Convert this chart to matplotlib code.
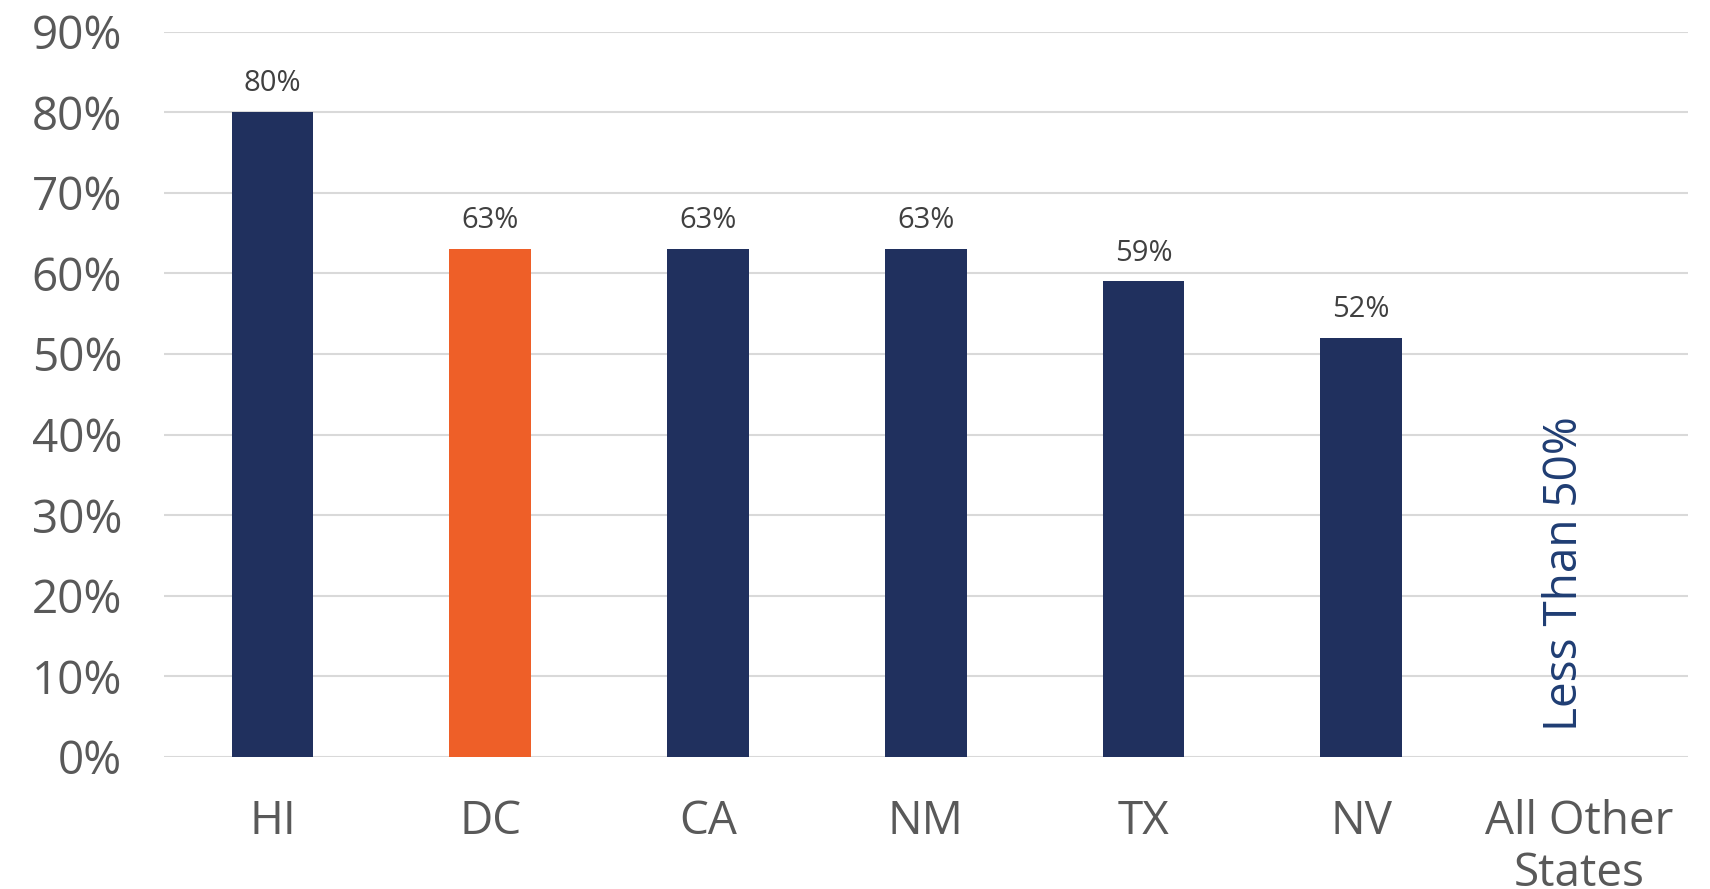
import matplotlib.pyplot as plt
from matplotlib.ticker import PercentFormatter

states = ['HI', 'DC', 'CA', 'NM', 'TX', 'NV', 'All Other\nStates']
share = [80, 63, 63, 63, 59, 52]
colors = ['#20305e', '#ee5f28', '#20305e', '#20305e', '#20305e', '#20305e']
other_note = 'Less Than 50%'

plt.rcParams['font.family'] = ['Open Sans', 'DejaVu Sans']

fig = plt.figure(figsize=(17.1, 8.89), dpi=100)
ax = fig.add_axes([0.0957, 0.1485, 0.8914, 0.816])

x = list(range(len(states)))
bars = ax.bar(x[:len(share)], share, width=0.375, color=colors, zorder=3)

# value labels above bars
for b, v in zip(bars, share):
    ax.annotate(f'{v}%', (b.get_x() + b.get_width() / 2, v),
                xytext=(0, 10), textcoords='offset points',
                ha='center', va='bottom', fontsize=21, color='#404040')

# note for the last category
ax.text(x[-1] - 0.065, 3.2, other_note, rotation=90, ha='center', va='bottom',
        fontsize=33, color='#1f3d73')

ax.set_xlim(-0.5, len(states) - 0.5)
ax.set_ylim(0, 90)
ax.set_yticks(range(0, 91, 10))
ax.yaxis.set_major_formatter(PercentFormatter(decimals=0))
ax.set_xticks(x)
ax.set_xticklabels(states, linespacing=1.18)

ax.tick_params(axis='y', length=0, pad=30, labelsize=33, labelcolor='#595959')
ax.tick_params(axis='x', length=0, pad=30, labelsize=33, labelcolor='#595959')
for lbl in ax.get_xticklabels():
    lbl.set_verticalalignment('top')

ax.grid(axis='y', color='#d9d9d9', linewidth=1.5, zorder=0)
for s in ax.spines.values():
    s.set_visible(False)

fig.savefig('out.png', dpi=100)
